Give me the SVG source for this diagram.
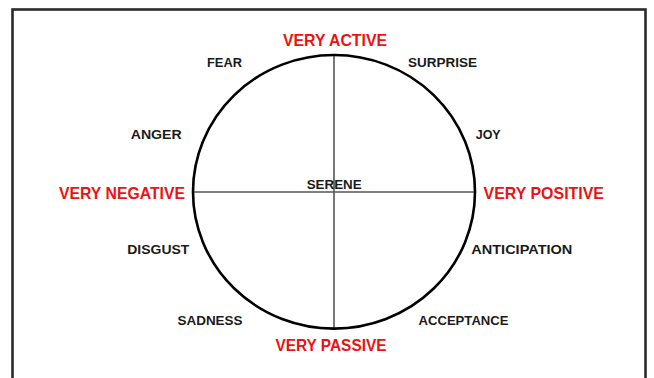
<svg xmlns="http://www.w3.org/2000/svg" width="654" height="378" viewBox="0 0 654 378">
<style>
.lbl{font-family:"Liberation Sans",Arial,sans-serif;font-weight:bold;font-size:13.5px;fill:#1a1a1a}
.pole{font-family:"Liberation Sans",Arial,sans-serif;font-weight:bold;font-size:16.5px;fill:#ee1111}
.axis{stroke:#555;stroke-width:1.6;fill:none}
</style>
<rect x="0" y="0" width="654" height="378" fill="#fff"/>
<rect id="frame" x="12.5" y="9.5" width="633" height="380" fill="none" stroke="#2a2a2a" stroke-width="2.6"/>
<g id="connectors">
<line class="axis" x1="193" y1="192" x2="475" y2="192"/>
<line class="axis" x1="334" y1="55" x2="334" y2="328.5"/>
</g>
<g id="circle"><ellipse cx="334" cy="191.8" rx="141" ry="136.8" fill="none" stroke="#000" stroke-width="2.6"/></g>
<g id="very-active"><text class="pole" x="283" y="46" textLength="104" lengthAdjust="spacingAndGlyphs">VERY ACTIVE</text></g>
<g id="very-passive"><text class="pole" x="275.5" y="351" textLength="111" lengthAdjust="spacingAndGlyphs">VERY PASSIVE</text></g>
<g id="very-negative"><text class="pole" x="59" y="198.5" textLength="126" lengthAdjust="spacingAndGlyphs">VERY NEGATIVE</text></g>
<g id="very-positive"><text class="pole" x="483.5" y="199" textLength="120.5" lengthAdjust="spacingAndGlyphs">VERY POSITIVE</text></g>
<g id="serene"><text class="lbl" x="306.7" y="188.5" textLength="55" lengthAdjust="spacingAndGlyphs">SERENE</text></g>
<g id="fear"><text class="lbl" x="207" y="67.3" textLength="35" lengthAdjust="spacingAndGlyphs">FEAR</text></g>
<g id="surprise"><text class="lbl" x="408" y="67.3" textLength="69" lengthAdjust="spacingAndGlyphs">SURPRISE</text></g>
<g id="anger"><text class="lbl" x="130.7" y="139" textLength="51" lengthAdjust="spacingAndGlyphs">ANGER</text></g>
<g id="joy"><text class="lbl" x="475.7" y="139" textLength="25" lengthAdjust="spacingAndGlyphs">JOY</text></g>
<g id="disgust"><text class="lbl" x="127.3" y="254" textLength="62" lengthAdjust="spacingAndGlyphs">DISGUST</text></g>
<g id="anticipation"><text class="lbl" x="471.3" y="254" textLength="101" lengthAdjust="spacingAndGlyphs">ANTICIPATION</text></g>
<g id="sadness"><text class="lbl" x="177.5" y="325" textLength="65" lengthAdjust="spacingAndGlyphs">SADNESS</text></g>
<g id="acceptance"><text class="lbl" x="418.5" y="325" textLength="90" lengthAdjust="spacingAndGlyphs">ACCEPTANCE</text></g>
</svg>
